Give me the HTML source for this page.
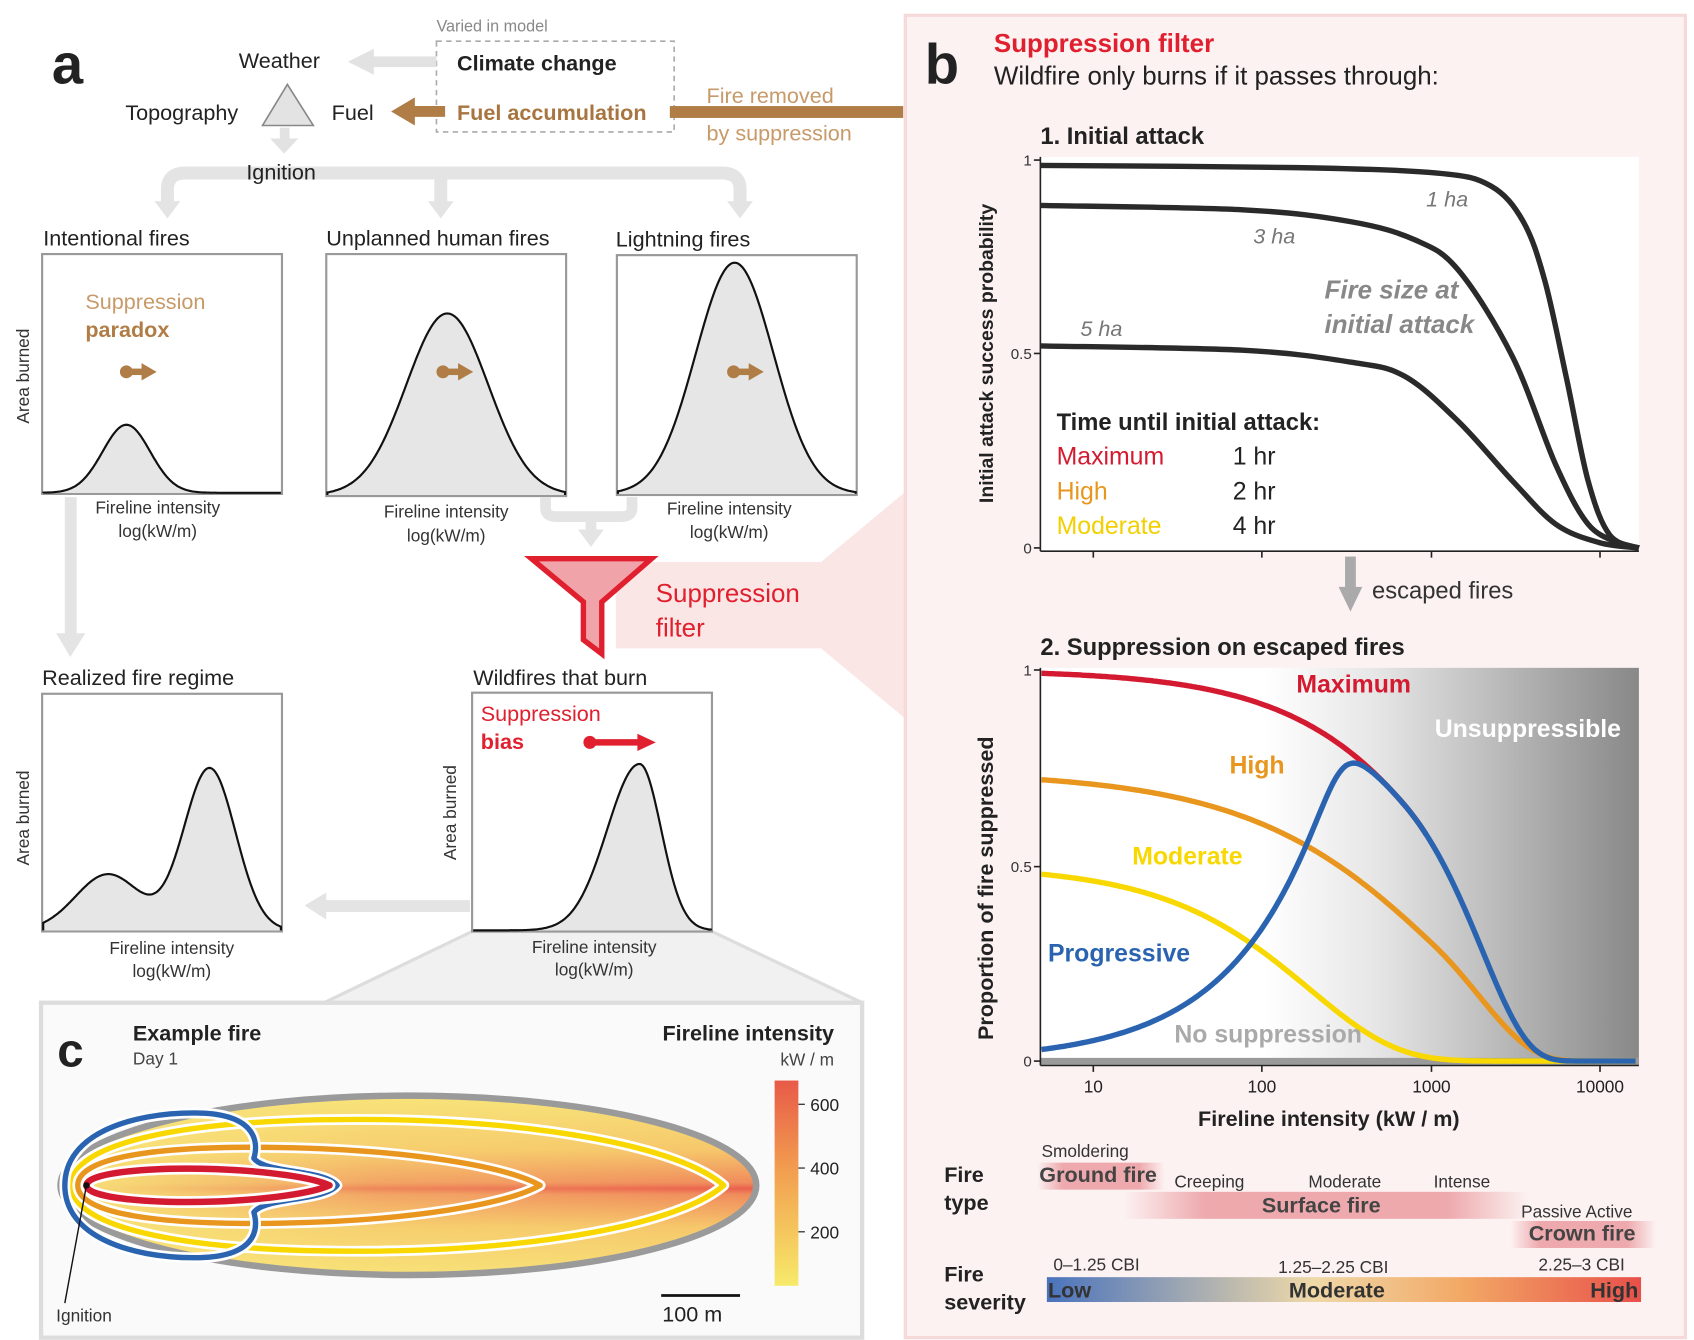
<!DOCTYPE html>
<html><head><meta charset="utf-8"><style>
html,body{margin:0;padding:0;background:#fff}
svg{display:block}
text{font-family:"Liberation Sans",sans-serif}
</style></head><body>
<svg width="1694" height="1340" viewBox="0 0 1568 1240" xmlns="http://www.w3.org/2000/svg">
<defs>
<linearGradient id="unsup" x1="0" x2="1" y1="0" y2="0">
<stop offset="0" stop-color="#fff"/><stop offset="0.3" stop-color="#e6e6e6"/><stop offset="1" stop-color="#888"/></linearGradient>
<linearGradient id="fireV" x1="0" x2="0" y1="0" y2="1">
<stop offset="0" stop-color="#f8e57a"/><stop offset="0.3" stop-color="#f6c66a"/><stop offset="0.47" stop-color="#f08a5c"/><stop offset="0.5" stop-color="#ea5e4c"/><stop offset="0.53" stop-color="#f08a5c"/><stop offset="0.7" stop-color="#f6c66a"/><stop offset="1" stop-color="#f8e57a"/></linearGradient>
<linearGradient id="fireH" x1="0" x2="1" y1="0" y2="0">
<stop offset="0" stop-color="#f8e57a" stop-opacity="1"/><stop offset="0.45" stop-color="#f8e57a" stop-opacity="0.3"/><stop offset="1" stop-color="#f8e57a" stop-opacity="0"/></linearGradient>
<linearGradient id="cbar" x1="0" x2="0" y1="0" y2="1">
<stop offset="0" stop-color="#e85a48"/><stop offset="0.45" stop-color="#f2a050"/><stop offset="1" stop-color="#f7ea6a"/></linearGradient>
<linearGradient id="sev" x1="0" x2="1" y1="0" y2="0">
<stop offset="0" stop-color="#4a73bd"/><stop offset="0.45" stop-color="#efd9a8"/><stop offset="0.7" stop-color="#f2a865"/><stop offset="1" stop-color="#e8504a"/></linearGradient>
<linearGradient id="pinkbar" x1="0" x2="1" y1="0" y2="0">
<stop offset="0" stop-color="#e88a90" stop-opacity="0"/><stop offset="0.2" stop-color="#e88a90" stop-opacity="0.7"/><stop offset="0.8" stop-color="#e88a90" stop-opacity="0.7"/><stop offset="1" stop-color="#e88a90" stop-opacity="0"/></linearGradient>
<clipPath id="ell"><ellipse cx="378" cy="1097" rx="322" ry="83"/></clipPath>
</defs>

<polygon points="300,928 437,862 659,862 798,928" fill="#f1f1f1" stroke="#ddd" stroke-width="3"/>
<polygon points="570,520 760,520 838,455 838,665 760,600 570,600" fill="#fbe6e6"/>

<rect x="838" y="14" width="722" height="1224" fill="#fcf2f2" stroke="#f6dada" stroke-width="3"/>
<rect x="38" y="928" width="760" height="310" fill="#fafafa" stroke="#ddd" stroke-width="4"/>

<!-- Panel a -->
<text x="48" y="77" font-size="52" font-weight="bold" fill="#222">a</text>
<text x="404" y="29" font-size="15" fill="#888">Varied in model</text>
<rect x="404" y="38" width="220" height="84" fill="none" stroke="#aaa" stroke-width="1.5" stroke-dasharray="5,4"/>
<text x="423" y="65" font-size="20" font-weight="bold" fill="#222">Climate change</text>
<text x="423" y="111" font-size="20" font-weight="bold" fill="#a8743f">Fuel accumulation</text>
<text x="221" y="63" font-size="20" fill="#222">Weather</text>
<polygon points="404,52 346,52 346,45 322,57 346,69 346,62 404,62" fill="#e2e2e2"/>
<text x="116" y="111" font-size="20" fill="#222">Topography</text>
<polygon points="266,78 243,116 290,116" fill="#e3e3e3" stroke="#888" stroke-width="1.5"/>
<text x="307" y="111" font-size="20" fill="#222">Fuel</text>
<polygon points="412,98 384,98 384,90 362,103 384,116 384,108 412,108" fill="#b07d47"/>
<rect x="620" y="98" width="216" height="11" fill="#b07d47"/>
<text x="654" y="95" font-size="20" fill="#c79a6a">Fire removed</text>
<text x="654" y="130" font-size="20" fill="#c79a6a">by suppression</text>
<polygon points="259,118 268,118 268,128 276,128 263,142 250,128 259,128" fill="#e2e2e2"/>
<path d="M155,188 L155,175 Q155,160 172,160 L668,160 Q685,160 685,175 L685,188" fill="none" stroke="#e4e4e4" stroke-width="12"/>
<line x1="408" y1="160" x2="408" y2="190" stroke="#e4e4e4" stroke-width="12"/>
<polygon points="143,186 167,186 155,202" fill="#e4e4e4"/>
<polygon points="396,186 420,186 408,202" fill="#e4e4e4"/>
<polygon points="673,186 697,186 685,202" fill="#e4e4e4"/>
<text x="228" y="166" font-size="20" fill="#222">Ignition</text>

<text x="40" y="227" font-size="20" fill="#222">Intentional fires</text>
<text x="302" y="227" font-size="20" fill="#222">Unplanned human fires</text>
<text x="570" y="228" font-size="20" fill="#222">Lightning fires</text>

<rect x="39" y="235" width="222" height="222" fill="#fff" stroke="#999" stroke-width="2"/>
<rect x="302" y="235" width="222" height="224" fill="#fff" stroke="#999" stroke-width="2"/>
<rect x="571" y="236" width="222" height="222" fill="#fff" stroke="#999" stroke-width="2"/>
<path id="g1" fill="#e6e6e6" stroke="#111" stroke-width="2"/>
<path id="g2" fill="#e6e6e6" stroke="#111" stroke-width="2"/>
<path id="g3" fill="#e6e6e6" stroke="#111" stroke-width="2"/>
<text x="79" y="286" font-size="20" fill="#c79a6a">Suppression</text>
<text x="79" y="312" font-size="20" font-weight="bold" fill="#b07d47">paradox</text>
<g fill="#b07d47">
<circle cx="117" cy="344" r="6"/><rect x="117" y="341" width="16" height="6"/><polygon points="131,336 145,344 131,352"/>
<circle cx="410" cy="344" r="6"/><rect x="410" y="341" width="16" height="6"/><polygon points="424,336 438,344 424,352"/>
<circle cx="679" cy="344" r="6"/><rect x="679" y="341" width="16" height="6"/><polygon points="693,336 707,344 693,352"/>
</g>
<text transform="translate(27,348) rotate(-90)" font-size="16" text-anchor="middle" fill="#333">Area burned</text>
<g font-size="16" fill="#333" text-anchor="middle">
<text x="146" y="475">Fireline intensity</text><text x="146" y="497">log(kW/m)</text>
<text x="413" y="479">Fireline intensity</text><text x="413" y="501">log(kW/m)</text>
<text x="675" y="476">Fireline intensity</text><text x="675" y="498">log(kW/m)</text>
</g>
<path d="M505,460 L505,470 Q505,478 515,478 L575,478 Q585,478 585,470 L585,460" fill="none" stroke="#e4e4e4" stroke-width="10"/>
<line x1="547" y1="478" x2="547" y2="492" stroke="#e4e4e4" stroke-width="10"/>
<polygon points="535,490 559,490 547,506" fill="#e4e4e4"/>
<polygon points="492,517 603,517 557,557 557,605 540,592 540,557" fill="#f0a4aa" stroke="#e0202f" stroke-width="5" stroke-linejoin="miter"/>
<text x="607" y="557" font-size="24" fill="#e0202f">Suppression</text>
<text x="607" y="589" font-size="24" fill="#e0202f">filter</text>
<rect x="60" y="460" width="11" height="128" fill="#e4e4e4"/>
<polygon points="52,586 79,586 65,608" fill="#e4e4e4"/>

<text x="39" y="634" font-size="20" fill="#222">Realized fire regime</text>
<text x="438" y="634" font-size="20" fill="#222">Wildfires that burn</text>
<rect x="39" y="642" width="222" height="220" fill="#fff" stroke="#999" stroke-width="2"/>
<rect x="437" y="641" width="222" height="221" fill="#fff" stroke="#999" stroke-width="2"/>
<path id="g4" fill="#e6e6e6" stroke="#111" stroke-width="2"/>
<path id="g5" fill="#e6e6e6" stroke="#111" stroke-width="2"/>
<text x="445" y="667" font-size="20" fill="#e0202f">Suppression</text>
<text x="445" y="693" font-size="20" font-weight="bold" fill="#e0202f">bias</text>
<circle cx="546" cy="687" r="6" fill="#e0202f"/><rect x="546" y="684" width="46" height="6" fill="#e0202f"/><polygon points="590,679 607,687 590,695" fill="#e0202f"/>
<text transform="translate(27,757) rotate(-90)" font-size="16" text-anchor="middle" fill="#333">Area burned</text>
<text transform="translate(422,752) rotate(-90)" font-size="16" text-anchor="middle" fill="#333">Area burned</text>
<g font-size="16" fill="#333" text-anchor="middle">
<text x="159" y="883">Fireline intensity</text><text x="159" y="904">log(kW/m)</text>
<text x="550" y="882">Fireline intensity</text><text x="550" y="903">log(kW/m)</text>
</g>
<rect x="300" y="833" width="135" height="11" fill="#e4e4e4"/>
<polygon points="302,826 302,851 282,838" fill="#e4e4e4"/>

<!-- Panel c -->
<text x="53" y="987" font-size="44" font-weight="bold" fill="#222">c</text>
<text x="123" y="963" font-size="20" font-weight="bold" fill="#222">Example fire</text>
<text x="123" y="985" font-size="16" fill="#444">Day 1</text>
<text x="772" y="963" font-size="20" font-weight="bold" fill="#222" text-anchor="end">Fireline intensity</text>
<text x="772" y="986" font-size="16" fill="#444" text-anchor="end">kW / m</text>
<rect x="717" y="1000" width="22" height="190" fill="url(#cbar)"/>
<g stroke="#333" stroke-width="1.2"><line x1="739" y1="1022" x2="745" y2="1022"/><line x1="739" y1="1081" x2="745" y2="1081"/><line x1="739" y1="1140" x2="745" y2="1140"/></g>
<g font-size="16" fill="#222"><text x="750" y="1028">600</text><text x="750" y="1087">400</text><text x="750" y="1146">200</text></g>
<g clip-path="url(#ell)">
<rect x="50" y="1010" width="660" height="180" fill="url(#fireV)"/>
<rect x="50" y="1010" width="660" height="180" fill="url(#fireH)"/>
</g>
<ellipse cx="378" cy="1097" rx="322" ry="83" fill="none" stroke="#9a9a9a" stroke-width="6"/>
<g fill="none" stroke-linejoin="round">
<path d="M66,1097 C66,1060 160,1036 330,1036 C500,1036 630,1062 670,1097 C630,1132 500,1158 330,1158 C160,1158 66,1134 66,1097Z" stroke="#fff" stroke-width="10"/>
<path d="M66,1097 C66,1060 160,1036 330,1036 C500,1036 630,1062 670,1097 C630,1132 500,1158 330,1158 C160,1158 66,1134 66,1097Z" stroke="#f8d800" stroke-width="5"/>
<path d="M72,1097 C72,1070 150,1060 260,1062 C380,1064 470,1080 500,1097 C470,1114 380,1130 260,1132 C150,1134 72,1124 72,1097Z" stroke="#fff" stroke-width="10"/>
<path d="M72,1097 C72,1070 150,1060 260,1062 C380,1064 470,1080 500,1097 C470,1114 380,1130 260,1132 C150,1134 72,1124 72,1097Z" stroke="#e8961e" stroke-width="5"/>
<path d="M60,1097 C60,1050 120,1030 180,1030 C235,1030 240,1055 235,1072 C245,1086 300,1082 312,1097 C300,1112 245,1108 235,1122 C240,1140 235,1164 180,1164 C120,1164 60,1144 60,1097Z" stroke="#fff" stroke-width="10"/>
<path d="M60,1097 C60,1050 120,1030 180,1030 C235,1030 240,1055 235,1072 C245,1086 300,1082 312,1097 C300,1112 245,1108 235,1122 C240,1140 235,1164 180,1164 C120,1164 60,1144 60,1097Z" stroke="#2a64b0" stroke-width="5"/>
<path d="M80,1097 C80,1085 140,1080 200,1082 C250,1084 290,1090 305,1097 C290,1104 250,1110 200,1112 C140,1114 80,1109 80,1097Z" stroke="#fff" stroke-width="11"/>
<path d="M80,1097 C80,1085 140,1080 200,1082 C250,1084 290,1090 305,1097 C290,1104 250,1110 200,1112 C140,1114 80,1109 80,1097Z" stroke="#d41a30" stroke-width="6"/>
</g>
<circle cx="80" cy="1097" r="3" fill="#111"/>
<line x1="80" y1="1097" x2="60" y2="1206" stroke="#111" stroke-width="1.3"/>
<text x="52" y="1223" font-size="16" fill="#333">Ignition</text>
<line x1="612" y1="1199" x2="685" y2="1199" stroke="#111" stroke-width="2.5"/>
<text x="613" y="1223" font-size="20" fill="#222">100 m</text>

<!-- Panel b -->
<text x="856" y="77" font-size="52" font-weight="bold" fill="#222">b</text>
<text x="920" y="48" font-size="24" font-weight="bold" fill="#e0202f">Suppression filter</text>
<text x="920" y="78" font-size="24" fill="#222">Wildfire only burns if it passes through:</text>
<text x="963" y="133" font-size="22" font-weight="bold" fill="#222">1. Initial attack</text>
<rect x="963" y="145" width="554" height="365" fill="#fff"/>
<line x1="963" y1="145" x2="963" y2="510" stroke="#222" stroke-width="1.5"/>
<line x1="963" y1="510" x2="1517" y2="510" stroke="#222" stroke-width="1.5"/>
<g stroke="#222" stroke-width="1.5">
<line x1="957" y1="148" x2="963" y2="148"/><line x1="957" y1="327" x2="963" y2="327"/><line x1="957" y1="507" x2="963" y2="507"/>
<line x1="1012" y1="510" x2="1012" y2="516"/><line x1="1168" y1="510" x2="1168" y2="516"/><line x1="1325" y1="510" x2="1325" y2="516"/><line x1="1481" y1="510" x2="1481" y2="516"/>
</g>
<g font-size="14" fill="#333" text-anchor="end"><text x="955" y="153">1</text><text x="955" y="332">0.5</text><text x="955" y="512">0</text></g>
<path id="ia1" fill="none" stroke="#2a2a2a" stroke-width="5"/>
<path id="ia2" fill="none" stroke="#2a2a2a" stroke-width="5"/>
<path id="ia3" fill="none" stroke="#2a2a2a" stroke-width="5"/>
<g font-size="20" font-style="italic" fill="#777">
<text x="1320" y="191">1 ha</text><text x="1160" y="225">3 ha</text><text x="1000" y="311">5 ha</text></g>
<text x="1226" y="276" font-size="24" font-weight="bold" font-style="italic" fill="#888">Fire size at</text>
<text x="1226" y="308" font-size="24" font-weight="bold" font-style="italic" fill="#888">initial attack</text>
<text x="978" y="398" font-size="22" font-weight="bold" fill="#222">Time until initial attack:</text>
<g font-size="23">
<text x="978" y="430" fill="#d41a30">Maximum</text><text x="978" y="462" fill="#e8961e">High</text><text x="978" y="494" fill="#f2d000">Moderate</text>
<text x="1141" y="430" fill="#222">1 hr</text><text x="1141" y="462" fill="#222">2 hr</text><text x="1141" y="494" fill="#222">4 hr</text></g>
<text transform="translate(919,327) rotate(-90)" font-size="18" font-weight="bold" text-anchor="middle" fill="#222">Initial attack success probability</text>

<rect x="1245" y="515" width="10" height="30" fill="#aaa"/>
<polygon points="1239,543 1261,543 1250,566" fill="#aaa"/>
<text x="1270" y="554" font-size="22" fill="#333">escaped fires</text>

<text x="963" y="606" font-size="22" font-weight="bold" fill="#222">2. Suppression on escaped fires</text>
<rect x="963" y="618" width="554" height="367" fill="#fff"/>
<rect x="1170" y="618" width="347" height="367" fill="url(#unsup)"/>
<line x1="963" y1="982" x2="1517" y2="982" stroke="#9a9a9a" stroke-width="6"/>
<line x1="963" y1="618" x2="963" y2="986" stroke="#222" stroke-width="1.5"/>
<line x1="963" y1="986" x2="1517" y2="986" stroke="#222" stroke-width="1.5"/>
<g stroke="#222" stroke-width="1.5">
<line x1="957" y1="620" x2="963" y2="620"/><line x1="957" y1="802" x2="963" y2="802"/><line x1="957" y1="982" x2="963" y2="982"/>
<line x1="1012" y1="986" x2="1012" y2="992"/><line x1="1168" y1="986" x2="1168" y2="992"/><line x1="1325" y1="986" x2="1325" y2="992"/><line x1="1481" y1="986" x2="1481" y2="992"/>
</g>
<g font-size="14" fill="#333" text-anchor="end"><text x="955" y="625">1</text><text x="955" y="807">0.5</text><text x="955" y="987">0</text></g>
<path id="sMax" fill="none" stroke="#d41a30" stroke-width="5"/>
<path id="sHigh" fill="none" stroke="#e8961e" stroke-width="5"/>
<path id="sMod" fill="none" stroke="#f8d800" stroke-width="5"/>
<path id="sProg" fill="none" stroke="#2a64b0" stroke-width="5"/>
<g font-size="23" font-weight="bold">
<text x="1200" y="641" fill="#d41a30">Maximum</text>
<text x="1328" y="682" fill="#fff">Unsuppressible</text>
<text x="1138" y="716" fill="#e8961e">High</text>
<text x="1048" y="800" fill="#f8d800">Moderate</text>
<text x="970" y="890" fill="#2a64b0">Progressive</text>
<text x="1087" y="965" fill="#aaa">No suppression</text>
</g>
<text transform="translate(919,822) rotate(-90)" font-size="20" font-weight="bold" text-anchor="middle" fill="#222">Proportion of fire suppressed</text>
<g font-size="16" fill="#222" text-anchor="middle">
<text x="1012" y="1011">10</text><text x="1168" y="1011">100</text><text x="1325" y="1011">1000</text><text x="1481" y="1011">10000</text></g>
<text x="1230" y="1042" font-size="20" font-weight="bold" text-anchor="middle" fill="#222">Fireline intensity (kW / m)</text>

<text x="874" y="1094" font-size="20" font-weight="bold" fill="#222">Fire</text>
<text x="874" y="1120" font-size="20" font-weight="bold" fill="#222">type</text>
<text x="964" y="1071" font-size="16" fill="#333">Smoldering</text>
<rect x="960" y="1076" width="118" height="25" fill="url(#pinkbar)"/>
<text x="962" y="1094" font-size="20" font-weight="bold" fill="#444">Ground fire</text>
<g font-size="16" fill="#333"><text x="1087" y="1099">Creeping</text><text x="1211" y="1099">Moderate</text><text x="1327" y="1099">Intense</text><text x="1408" y="1127">Passive  Active</text></g>
<rect x="1040" y="1103" width="375" height="25" fill="url(#pinkbar)"/>
<text x="1168" y="1122" font-size="20" font-weight="bold" fill="#444">Surface fire</text>
<rect x="1398" y="1130" width="135" height="25" fill="url(#pinkbar)"/>
<text x="1415" y="1148" font-size="20" font-weight="bold" fill="#444">Crown fire</text>

<text x="874" y="1186" font-size="20" font-weight="bold" fill="#222">Fire</text>
<text x="874" y="1212" font-size="20" font-weight="bold" fill="#222">severity</text>
<g font-size="16" fill="#333"><text x="975" y="1176">0–1.25 CBI</text><text x="1183" y="1178">1.25–2.25 CBI</text><text x="1424" y="1176">2.25–3 CBI</text></g>
<rect x="969" y="1182" width="550" height="23" fill="url(#sev)"/>
<g font-size="20" font-weight="bold" fill="#333"><text x="970" y="1201">Low</text><text x="1193" y="1201">Moderate</text><text x="1472" y="1201">High</text></g>
</svg>
<script>
function set(id,d){document.getElementById(id).setAttribute('d',d);}
function gauss(x0,x1,base,parts){var d='M'+x0+','+base;for(var x=x0;x<=x1;x+=1){var y=0;parts.forEach(function(p){y+=p[2]*Math.exp(-0.5*Math.pow((x-p[0])/(x<p[0]?p[1]:(p[3]||p[1])),2));});d+=' L'+x+','+(base-y).toFixed(1);}return d+' L'+x1+','+base;}
set('g1',gauss(40,260,456,[[117,22,63]]));
set('g2',gauss(303,523,458,[[414,38,168]]));
set('g3',gauss(572,792,457,[[680,36,214]]));
set('g4',gauss(40,260,861,[[100,30,52],[194,24,150]]));
set('g5',gauss(438,658,861,[[592,30,154,20]]));
function cr(p){var d='M'+p[0][0]+','+p[0][1];for(var i=0;i<p.length-1;i++){var p0=p[i>0?i-1:0],p1=p[i],p2=p[i+1],p3=p[i+2<p.length?i+2:i+1];
d+=' C'+(p1[0]+(p2[0]-p0[0])/6).toFixed(1)+','+(p1[1]+(p2[1]-p0[1])/6).toFixed(1)+' '+(p2[0]-(p3[0]-p1[0])/6).toFixed(1)+','+(p2[1]-(p3[1]-p1[1])/6).toFixed(1)+' '+p2[0]+','+p2[1];}return d;}
set('ia1',cr([[963,153],[1200,155],[1330,160],[1380,172],[1410,205],[1430,260],[1450,350],[1470,445],[1490,495],[1517,507]]));
set('ia2',cr([[963,190],[1150,194],[1250,205],[1310,222],[1350,250],[1400,330],[1440,430],[1470,485],[1500,503],[1517,507]]));
set('ia3',cr([[963,320],[1150,324],[1250,335],[1300,348],[1350,390],[1400,445],[1440,485],[1480,502],[1517,507]]));
function I(x){return 10*Math.pow(10,(x-1012)/156.5);}
function Y(v){return 982-v*362;}
function mx(i){var d=Math.log10(i)-2.84;var f=-0.86+1.82*d+(d>0?1.2*d*d:0);return Math.exp(-Math.exp(f));}
function hi(i){var d=Math.log10(i)-3;var f=-0.11+1.5*d+(d>0?1.1*d*d:0);return 0.74*Math.exp(-Math.exp(f));}
function mo(i){var d=Math.log10(i)-2;var f=-0.545+1.95*d;return 0.5*Math.exp(-Math.exp(f));}
function pr(i){var g=0.03*Math.exp(1.87*(Math.log10(i)-0.7));var m=mx(i);if(m<1e-9)return 0;var p=8;return Math.pow(Math.pow(g,-p)+Math.pow(m,-p),-1/p);}
function curve(f,x1){var d='';for(var x=964;x<=x1;x+=2){d+=(d?' L':'M')+x+','+Y(f(I(x))).toFixed(1);}return d;}
set('sMax',curve(mx,1320));set('sHigh',curve(hi,1515));set('sMod',curve(mo,1515));set('sProg',curve(pr,1515));
</script>
</body></html>
